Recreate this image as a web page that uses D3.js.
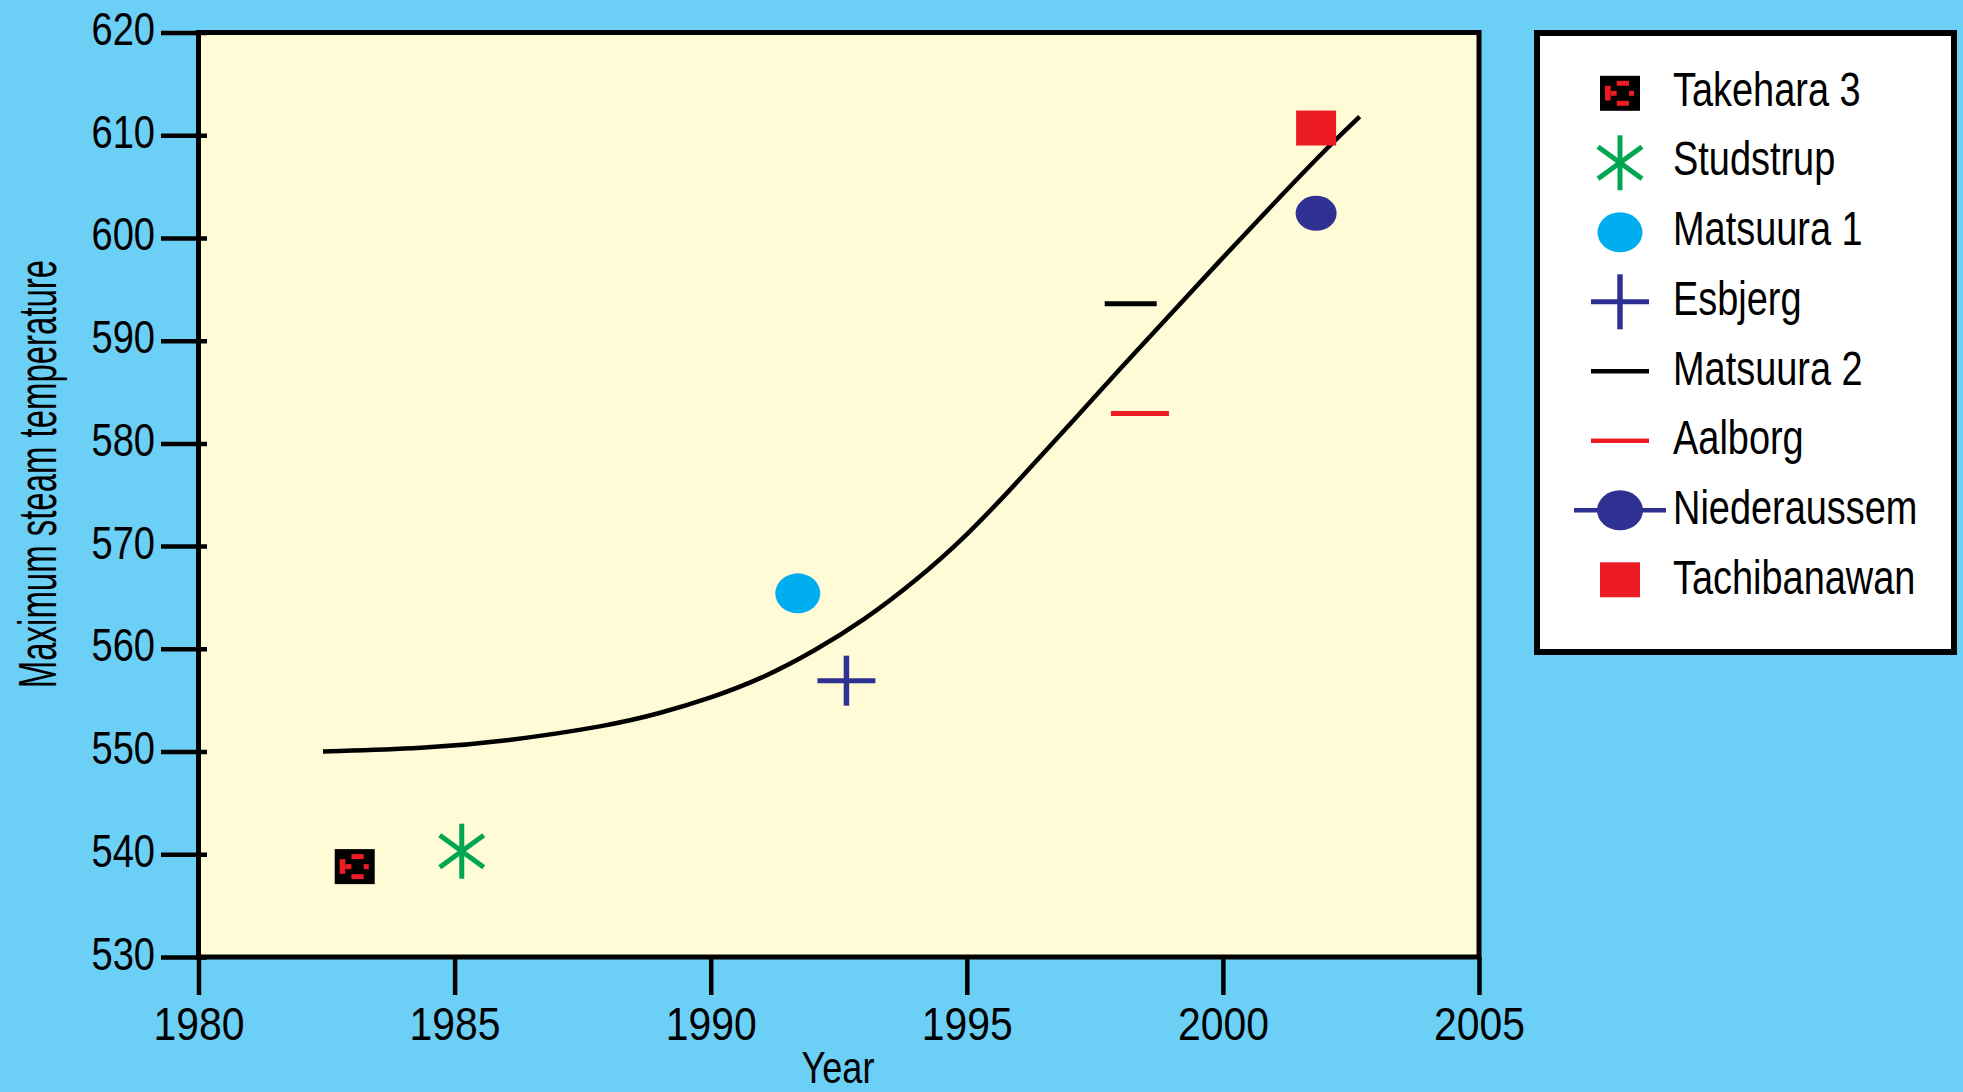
<!DOCTYPE html>
<html>
<head>
<meta charset="utf-8">
<script src="https://cdn.jsdelivr.net/npm/d3@7"></script>
<style>
  html, body { margin: 0; padding: 0; background: #6ccff6; }
  svg { display: block; }
  text { font-family: "Liberation Sans", Arial, sans-serif; fill: #000; }
</style>
</head>
<body>
<svg id="chart" width="1963" height="1092"></svg>
<script>
// ---------- data ----------
const xTicks = [1980, 1985, 1990, 1995, 2000, 2005];
const yTicks = [530, 540, 550, 560, 570, 580, 590, 600, 610, 620];

// trend curve (Year, Maximum steam temperature)
const curveYear = [1982.43, 1984.4, 1986, 1988, 1989, 1990, 1991, 1992, 1993, 1994, 1995, 1996, 1997, 1998, 1999, 2000, 2001, 2002, 2002.67];
const curveTemp = [550.0, 550.3, 551.0, 552.5, 553.7, 555.2, 557.1, 559.7, 562.8, 566.6, 571.0, 576.3, 581.8, 587.3, 592.7, 598.1, 603.4, 608.6, 611.8];

// plants
const plants    = ["Takehara 3", "Studstrup", "Matsuura 1", "Esbjerg", "Matsuura 2", "Aalborg", "Niederaussem", "Tachibanawan"];
const plantYear = [1983.05, 1985.14, 1991.70, 1992.65, 1998.2, 1998.38, 2001.82, 2001.82];
const plantTemp = [538.8, 540.3, 565.4, 556.9, 593.6, 582.9, 602.4, 610.7];

const xTitle = "Year";
const yTitle = "Maximum steam temperature";

// ---------- colours ----------
const RED = "#ed1c24", GREEN = "#00a651", CYAN = "#00aeef", NAVY = "#2e3192";
const BG = "#6ccff6", PLOT_BG = "#fffbd7";

const svg = d3.select("#chart");
svg.append("rect").attr("width", 1963).attr("height", 1092).attr("fill", BG);

const x = d3.scaleLinear().domain([1980, 2005]).range([198.5, 1479]);
const y = d3.scaleLinear().domain([530, 620]).range([957, 32.5]);

// plot background
svg.append("rect")
  .attr("x", x(1980)).attr("y", y(620))
  .attr("width", x(2005) - x(1980)).attr("height", y(530) - y(620))
  .attr("fill", PLOT_BG);

// ---------- axes ----------
const yAxis = svg.append("g").attr("transform", `translate(${x(1980)},0)`)
  .call(d3.axisLeft(y).tickValues(yTicks).tickSize(37.5).tickPadding(6).tickFormat(d3.format("d")));
yAxis.select(".domain").remove();
yAxis.selectAll(".tick line").attr("x1", 8.5).attr("stroke", "#000").attr("stroke-width", 4.5);
yAxis.selectAll(".tick text")
  .attr("font-size", 47).attr("font-family", "Liberation Sans, Arial, sans-serif")
  .attr("dy", null).attr("y", 12)
  .attr("x", -43.5 / 0.81)
  .attr("transform", "scale(0.81,1)");

const xAxis = svg.append("g").attr("transform", `translate(0,${y(530)})`)
  .call(d3.axisBottom(x).tickValues(xTicks).tickSize(38).tickPadding(8).tickFormat(d3.format("d")));
xAxis.select(".domain").remove();
xAxis.selectAll(".tick line").attr("stroke", "#000").attr("stroke-width", 4.5);
xAxis.selectAll(".tick text")
  .attr("font-size", 47).attr("font-family", "Liberation Sans, Arial, sans-serif")
  .attr("dy", null).attr("y", 83)
  .attr("transform", "scale(0.87,1)");

// plot frame
svg.append("rect")
  .attr("x", x(1980)).attr("y", y(620))
  .attr("width", x(2005) - x(1980)).attr("height", y(530) - y(620))
  .attr("fill", "none").attr("stroke", "#000").attr("stroke-width", 5);

// axis titles
svg.append("text")
  .attr("transform", `translate(56,474) rotate(-90) scale(0.61,1)`)
  .attr("text-anchor", "middle").attr("font-size", 54)
  .text(yTitle);
svg.append("text")
  .attr("transform", `translate(838,1083) scale(0.82,1)`)
  .attr("text-anchor", "middle").attr("font-size", 44)
  .text(xTitle);

// ---------- curve ----------
const curvePts = curveYear.map((yr, i) => [yr, curveTemp[i]]);
svg.append("path")
  .datum(curvePts)
  .attr("fill", "none").attr("stroke", "#000").attr("stroke-width", 4.5)
  .attr("stroke-linejoin", "round")
  .attr("d", d3.line().x(d => x(d[0])).y(d => y(d[1])).curve(d3.curveBasis));

// ---------- markers ----------
function drawMarker(g, i, cx, cy, legend) {
  switch (i) {
    case 0: { // Takehara 3
      const w = 40, h = 35, x0 = cx - w / 2, y0 = cy - h / 2;
      g.append("rect").attr("x", x0).attr("y", y0).attr("width", w).attr("height", h).attr("fill", "#000");
      [[16.7, 5, 12.3, 5], [5, 10, 5.7, 14.7], [10.7, 15, 6, 5], [29, 15, 5, 5], [16.7, 25, 12.3, 5]]
        .forEach(r => g.append("rect").attr("x", x0 + r[0]).attr("y", y0 + r[1])
          .attr("width", r[2]).attr("height", r[3]).attr("fill", RED));
      break;
    }
    case 1: { // Studstrup asterisk
      const hv = 27.5, dx = 22, dy = 16;
      const s = [[0, -hv, 0, hv], [-dx, -dy, dx, dy], [-dx, dy, dx, -dy]];
      s.forEach(l => g.append("line").attr("x1", cx + l[0]).attr("y1", cy + l[1])
        .attr("x2", cx + l[2]).attr("y2", cy + l[3]).attr("stroke", GREEN).attr("stroke-width", 5));
      break;
    }
    case 2: // Matsuura 1
      g.append("ellipse").attr("cx", cx).attr("cy", cy).attr("rx", 22.5).attr("ry", 20).attr("fill", CYAN);
      break;
    case 3: { // Esbjerg plus
      const hw = 29, hh = legend ? 27.5 : 25;
      g.append("line").attr("x1", cx - hw).attr("x2", cx + hw).attr("y1", cy).attr("y2", cy)
        .attr("stroke", NAVY).attr("stroke-width", 5);
      g.append("line").attr("x1", cx).attr("x2", cx).attr("y1", cy - hh).attr("y2", cy + hh)
        .attr("stroke", NAVY).attr("stroke-width", 5.5);
      break;
    }
    case 4: { // Matsuura 2
      const hw = legend ? 29 : 26;
      g.append("line").attr("x1", cx - hw).attr("x2", cx + hw).attr("y1", cy).attr("y2", cy)
        .attr("stroke", "#000").attr("stroke-width", legend ? 4.5 : 5);
      break;
    }
    case 5: { // Aalborg
      const hw = 29;
      g.append("line").attr("x1", cx - hw).attr("x2", cx + hw).attr("y1", cy).attr("y2", cy)
        .attr("stroke", RED).attr("stroke-width", legend ? 4.5 : 5);
      break;
    }
    case 6: // Niederaussem
      if (legend) {
        g.append("line").attr("x1", cx - 46).attr("x2", cx + 46).attr("y1", cy).attr("y2", cy)
          .attr("stroke", NAVY).attr("stroke-width", 4.5);
        g.append("ellipse").attr("cx", cx).attr("cy", cy).attr("rx", 23).attr("ry", 20).attr("fill", NAVY);
      } else {
        g.append("ellipse").attr("cx", cx).attr("cy", cy).attr("rx", 20.5).attr("ry", 17.5).attr("fill", NAVY);
      }
      break;
    case 7: // Tachibanawan
      g.append("rect").attr("x", cx - 20).attr("y", cy - 17.5).attr("width", 40).attr("height", 35).attr("fill", RED);
      break;
  }
}

const marks = svg.append("g");
plants.forEach((p, i) => drawMarker(marks, i, x(plantYear[i]), y(plantTemp[i]), false));

// ---------- legend ----------
const legend = svg.append("g");
legend.append("rect").attr("x", 1537).attr("y", 33).attr("width", 417).attr("height", 619)
  .attr("fill", "#fff").attr("stroke", "#000").attr("stroke-width", 6);
plants.forEach((p, i) => {
  const sy = 93.3 + i * 69.5;
  drawMarker(legend, i, 1620, sy, true);
  legend.append("text")
    .attr("transform", `translate(1673,${105.7 + i * 69.7}) scale(0.79,1)`)
    .attr("font-size", 48)
    .text(p);
});
</script>
</body>
</html>
